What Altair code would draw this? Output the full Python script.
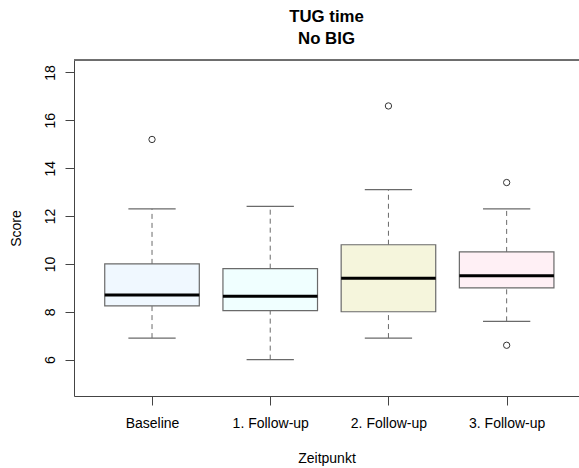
import altair as alt
import pandas as pd

# Box statistics per time point (TUG time in seconds, "No BIG" group)
categories = ["Baseline", "1. Follow-up", "2. Follow-up", "3. Follow-up"]
whisker_low = [6.9, 6.0, 6.9, 7.6]
q1 = [8.25, 8.05, 8.0, 9.0]
median = [8.7, 8.65, 9.4, 9.5]
q3 = [10.0, 9.8, 10.8, 10.5]
whisker_high = [12.3, 12.4, 13.1, 12.3]
fills = ["#F0F8FF", "#F0FFFF", "#F5F5DC", "#FFF0F5"]

outlier_group = ["Baseline", "2. Follow-up", "3. Follow-up", "3. Follow-up"]
outlier_value = [15.2, 16.6, 13.4, 6.6]

pos = {c: i + 1 for i, c in enumerate(categories)}
box_half = 0.4
cap_half = 0.2

boxes = pd.DataFrame({
    "group": categories,
    "x": [pos[c] for c in categories],
    "xl": [pos[c] - box_half for c in categories],
    "xr": [pos[c] + box_half for c in categories],
    "cl": [pos[c] - cap_half for c in categories],
    "cr": [pos[c] + cap_half for c in categories],
    "lo": whisker_low,
    "q1": q1,
    "med": median,
    "q3": q3,
    "hi": whisker_high,
})
outliers = pd.DataFrame({
    "group": outlier_group,
    "x": [pos[c] for c in outlier_group],
    "v": outlier_value,
})

W, H = 505, 336
FONT = "Liberation Sans"
GRAY = "#6a6a6a"

label_expr = " : ".join(
    f"datum.value == {pos[c]} ? '{c}'" for c in categories
) + " : ''"

xscale = alt.Scale(domain=[0.34, 4.612], nice=False, zero=False)
yscale = alt.Scale(domain=[4.48, 18.52], nice=False, zero=False)

x_axis = alt.Axis(
    values=[1, 2, 3, 4], labelExpr=label_expr, grid=False,
    title="Zeitpunkt", titleFont=FONT, titleFontSize=14, titleFontWeight="normal",
    titleColor="#000", titlePadding=21,
    labelFont=FONT, labelFontSize=14, labelColor="#000", labelPadding=11,
    tickSize=9, tickColor="#444", domainColor="#444", labelFlush=False,
)
y_axis = alt.Axis(
    values=[6, 8, 10, 12, 14, 16, 18], grid=False,
    title="Score", titleFont=FONT, titleFontSize=14, titleFontWeight="normal",
    titleColor="#000", titlePadding=20,
    labelFont=FONT, labelFontSize=14, labelColor="#000", labelAngle=270,
    labelAlign="center", labelBaseline="bottom", labelPadding=8,
    tickSize=9, tickColor="#444", domainColor="#444",
)

base = alt.Chart(boxes)

# dashed whiskers
whisk_up = base.mark_rule(color=GRAY, strokeDash=[5, 4], strokeWidth=1).encode(
    x=alt.X("x:Q", scale=xscale, axis=x_axis),
    y=alt.Y("q3:Q", scale=yscale, axis=y_axis),
    y2="hi:Q",
)
whisk_dn = base.mark_rule(color=GRAY, strokeDash=[5, 4], strokeWidth=1).encode(
    x="x:Q", y="lo:Q", y2="q1:Q",
)
# whisker caps
cap_hi = base.mark_rule(color=GRAY, strokeWidth=1.2).encode(x="cl:Q", x2="cr:Q", y="hi:Q")
cap_lo = base.mark_rule(color=GRAY, strokeWidth=1.2).encode(x="cl:Q", x2="cr:Q", y="lo:Q")

# boxes
rect = base.mark_rect(stroke=GRAY, strokeWidth=1.2).encode(
    x="xl:Q", x2="xr:Q", y="q1:Q", y2="q3:Q",
    fill=alt.Fill("group:N", scale=alt.Scale(domain=categories, range=fills), legend=None),
)
# medians
med = base.mark_rule(color="#000", strokeWidth=3).encode(x="xl:Q", x2="xr:Q", y="med:Q")

pts = alt.Chart(outliers).mark_point(
    shape="circle", size=40, filled=False, color="#333", strokeWidth=1, opacity=1
).encode(x="x:Q", y="v:Q")

# top edge of the plot frame
top_edge = base.mark_rule(color="#666", strokeWidth=1).encode(
    x=alt.value(0), x2=alt.value(W), y=alt.value(0)
)

chart = alt.layer(whisk_up, whisk_dn, cap_hi, cap_lo, rect, med, pts, top_edge).properties(
    width=W, height=H,
    title=alt.TitleParams(
        text=["TUG time", "\u00a0No BIG"], font=FONT, fontSize=16.8, fontWeight="bold",
        color="#000", anchor="middle", lineHeight=22, offset=12,
    ),
    autosize=alt.AutoSizeParams(type="none"),
    padding={"left": 74, "top": 60, "right": 0, "bottom": 72},
).configure_view(stroke=None).configure(background="white")

chart.save("out.html", embed_options={"renderer": "svg", "actions": False})
